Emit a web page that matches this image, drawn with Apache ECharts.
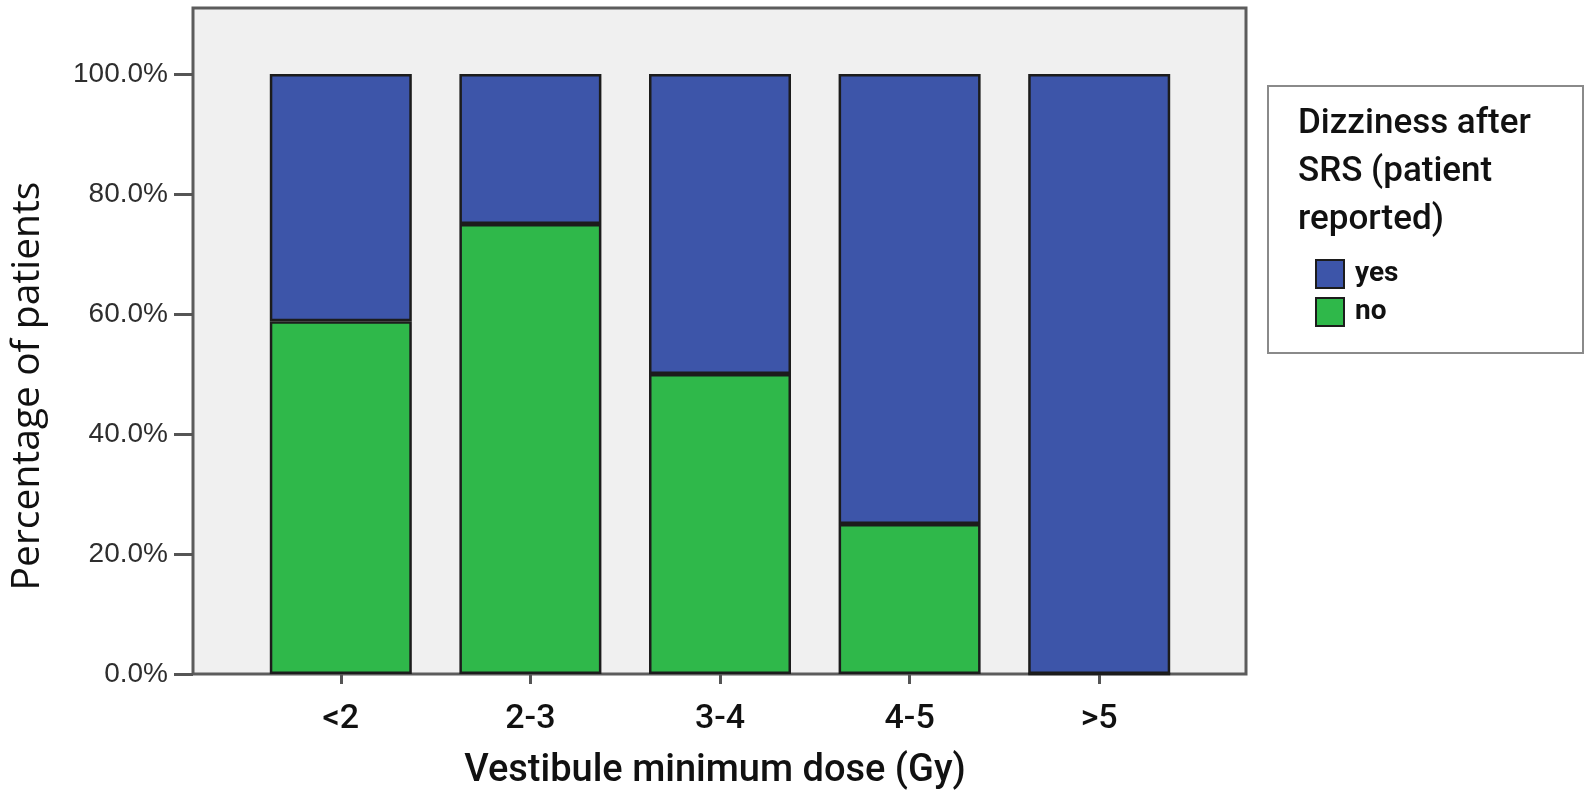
<!DOCTYPE html>
<html>
<head>
<meta charset="utf-8">
<script src="https://cdn.jsdelivr.net/npm/echarts@6/dist/echarts.min.js"></script>
<style>html,body{margin:0;padding:0;background:#fff;}#c{width:1593px;height:808px;}</style>
</head>
<body>
<div id="c"></div>
<script>
const categories = ['<2', '2-3', '3-4', '4-5', '>5'];
const noValues = [58.8, 75.0, 50.0, 25.0, 0.0];
const yesValues = [41.2, 25.0, 50.0, 75.0, 100.0];
const yTicks = [0, 20, 40, 60, 80, 100];
const legendTitle = 'Dizziness after\nSRS (patient\nreported)';
const xTitle = 'Vestibule minimum dose (Gy)';
const yTitle = 'Percentage of patients';

const chart = echarts.init(document.getElementById('c'), null, {renderer: 'canvas'});
const BLUE = '#3d55a9', GREEN = '#2fb84a', EDGE = '#1c1c1c', AX = '#555555';
const option = {
  animation: false,
  backgroundColor: '#ffffff',
  grid: [
    {left: 193, top: 8, right: 347, bottom: 134, show: true, backgroundColor: '#f0f0f0', borderColor: '#5c5c5c', borderWidth: 3, z: 0},
    {left: 246, top: 74, right: 399, bottom: 134}
  ],
  xAxis: [
    {gridIndex: 0, type: 'value', show: false, min: 0, max: 1},
    {gridIndex: 1, type: 'category', data: categories,
     axisLine: {show: false},
     axisTick: {show: true, alignWithLabel: true, length: 10, lineStyle: {color: AX, width: 3}},
     axisLabel: {margin: 28, fontFamily: 'Roboto', fontSize: 34, fontWeight: 500, color: '#111'},
     name: xTitle, nameLocation: 'middle', nameGap: 78,
     nameTextStyle: {fontFamily: 'Roboto', fontSize: 38, fontWeight: 500, color: '#111', padding: [0, 10, 0, 0]}
    }
  ],
  yAxis: [
    {gridIndex: 0, type: 'value', show: false, min: 0, max: 1},
    {gridIndex: 1, type: 'value', min: 0, max: 100, interval: 20, offset: 53,
     axisLine: {show: false},
     axisTick: {show: true, length: 19, lineStyle: {color: AX, width: 3},
                customValues: yTicks},
     axisLabel: {margin: 25, fontFamily: 'Liberation Sans', fontSize: 28, color: '#2e2e2e',
                 customValues: yTicks,
                 formatter: v => v.toFixed(1) + '%'},
     splitLine: {show: false},
     name: yTitle, nameLocation: 'middle', nameGap: 146,
     nameTextStyle: {fontFamily: 'Open Sans', fontSize: 39, color: '#111', padding: [0, 24, 0, 0]}
    }
  ],
  title: {
    text: legendTitle, left: 1298, top: 100, padding: 0,
    textStyle: {fontFamily: 'Roboto', fontSize: 35, fontWeight: 500, color: '#111', lineHeight: 48}
  },
  legend: {
    orient: 'vertical', left: 1315, top: 259, padding: 0,
    itemWidth: 28, itemHeight: 28, itemGap: 8, icon: 'rect',
    data: ['yes', 'no'],
    textStyle: {fontFamily: 'Roboto', fontSize: 28, fontWeight: 'bold', color: '#111', padding: [0, 0, 0, 6]}
  },
  graphic: [
    {type: 'rect', z: -1, shape: {x: 1268, y: 86, width: 315, height: 267},
     style: {fill: '#ffffff', stroke: '#8a8a8a', lineWidth: 2}}
  ],
  series: [
    {name: 'no', type: 'bar', stack: 's', xAxisIndex: 1, yAxisIndex: 1, data: noValues, barWidth: 142,
     itemStyle: {color: GREEN, borderColor: EDGE, borderWidth: 2.5}},
    {name: 'yes', type: 'bar', stack: 's', xAxisIndex: 1, yAxisIndex: 1, data: yesValues, barWidth: 142,
     itemStyle: {color: BLUE, borderColor: EDGE, borderWidth: 2.5}}
  ]
};
chart.setOption(option);
</script>
</body>
</html>
